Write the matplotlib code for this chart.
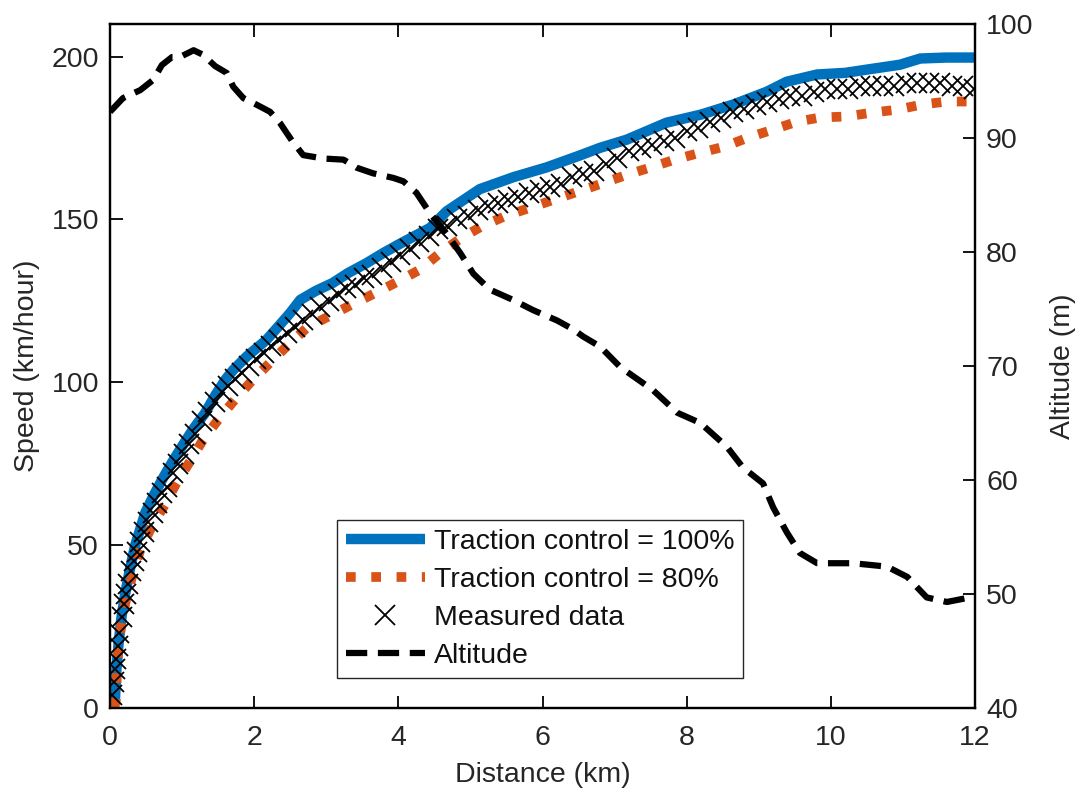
import matplotlib
matplotlib.use("Agg")
import matplotlib.pyplot as plt

plt.rcParams['font.family'] = ['Liberation Sans', 'DejaVu Sans']

# ---- data ----
blue_d = [0.05, 0.07, 0.09, 0.12, 0.16, 0.21, 0.28, 0.35, 0.42, 0.49, 0.60, 0.72, 0.85, 0.99,
          1.15, 1.32, 1.46, 1.60, 1.71, 1.90, 2.17, 2.35, 2.50, 2.64, 2.85, 3.09, 3.30, 3.56,
          3.80, 4.02, 4.44, 4.67, 5.13, 5.60, 6.06, 6.50, 6.80, 7.17, 7.72, 8.20, 8.65, 9.11,
          9.39, 9.81, 10.20, 10.50, 10.96, 11.24, 11.60, 12.00]
blue_v = [1, 3, 12, 20, 28, 35, 43, 50, 55, 60, 65, 70, 75, 80,
          85.5, 90.6, 96, 100.8, 103.8, 108, 113, 117.5, 121.3, 125.3, 128, 130.5, 133.5, 136.6,
          139.8, 142.5, 147.4, 152.5, 159.3, 163, 166, 169.5, 172, 174.5, 179.7, 182.2, 185.3, 189.2,
          192.3, 194.5, 195, 196, 197.5, 199.4, 199.7, 199.7]

orange_d = [0.06, 0.09, 0.093, 0.115, 0.16, 0.23, 0.32, 0.42, 0.58, 0.76, 0.92, 1.11, 1.29, 1.50,
            1.73, 1.97, 2.22, 2.45, 2.73, 3.03, 3.35, 3.68, 4.00, 4.30, 4.58, 4.88, 5.16, 5.48,
            5.83, 6.15, 6.50, 6.82, 7.17, 7.49, 7.84, 8.19, 8.53, 8.85, 9.20, 9.53, 9.85, 10.22,
            10.57, 10.92, 11.27, 11.61, 12.00]
orange_v = [0, 3.5, 11.7, 18.8, 26, 34.2, 41.4, 48.5, 55.7, 62.4, 69, 75.7, 82.3, 88.5,
            94.6, 100.5, 106, 111, 116.7, 120.2, 123.8, 127.4, 131, 134.6, 139.7, 144.4, 147.9, 151,
            153.6, 156, 158.6, 161, 163.7, 165.9, 168.4, 170.5, 172.4, 175.1, 177.6, 180, 181.3, 181.6,
            182.8, 183.7, 185.3, 186.2, 186.2]

meas_d = [0.03, 0.05, 0.07, 0.09, 0.11, 0.13, 0.16, 0.19, 0.22, 0.25, 0.29, 0.33, 0.37, 0.42,
          0.47, 0.53, 0.59, 0.65, 0.72, 0.79, 0.87, 0.95, 1.03, 1.10, 1.18, 1.27, 1.36, 1.45,
          1.55, 1.64, 1.73, 1.83, 1.93, 2.03, 2.13, 2.24, 2.35, 2.46, 2.57, 2.68, 2.80, 2.92,
          3.04, 3.16, 3.28, 3.40, 3.52, 3.64, 3.77, 3.90, 4.03, 4.16, 4.29, 4.42, 4.55, 4.68,
          4.82, 4.96, 5.10, 5.24, 5.38, 5.52, 5.66, 5.81, 5.96, 6.11, 6.26, 6.41, 6.56, 6.72,
          6.88, 7.04, 7.20, 7.36, 7.52, 7.68, 7.84, 8.00, 8.16, 8.32, 8.48, 8.64, 8.80, 8.96,
          9.12, 9.28, 9.44, 9.60, 9.76, 9.92, 10.08, 10.24, 10.40, 10.56, 10.72, 10.88, 11.04,
          11.20, 11.36, 11.52, 11.68, 11.84, 11.98]
meas_v = [4, 8, 12, 15, 19, 23, 28, 32, 35, 38, 42, 45, 48, 51,
          54, 57, 60, 63, 66, 68, 72, 75, 78, 81, 84, 88, 91, 94,
          97, 99, 101, 103, 105, 107, 109, 111, 113, 115, 117, 119, 121, 123,
          125, 127, 129, 130, 132, 133, 135, 137, 139, 141, 143, 145, 147, 148,
          150, 151, 153, 154, 155, 156, 157, 158, 159, 160, 161, 163, 164, 165,
          167, 169, 171, 172, 173, 174, 175, 177, 178, 180, 181, 183, 184, 185,
          186, 187, 188, 188, 189, 190, 190, 190, 191, 191, 191, 191, 192,
          192, 192, 192, 191, 191, 190]

alt_d = [0.0, 0.046, 0.18, 0.42, 0.60, 0.72, 0.86, 0.97, 1.16, 1.29, 1.46, 1.62, 1.71, 1.85,
         2.04, 2.22, 2.36, 2.52, 2.68, 2.96, 3.24, 3.42, 3.65, 3.93, 4.07, 4.25, 4.44, 4.67,
         4.86, 5.04, 5.27, 5.59, 5.87, 6.20, 6.43, 6.56, 6.80, 7.08, 7.53, 7.87, 8.19, 8.56,
         8.78, 9.06, 9.20, 9.39, 9.57, 9.81, 10.03, 10.31, 10.78, 11.06, 11.33, 11.61, 11.93, 12.0]
alt_v = [92.3, 92.6, 93.5, 94.2, 95.1, 96.4, 97.1, 97.1, 97.7, 97.3, 96.3, 95.7, 94.5, 93.5,
         92.9, 92.3, 91.3, 89.8, 88.5, 88.2, 88.1, 87.4, 86.9, 86.5, 86.2, 85.2, 83.4, 81.6,
         79.9, 78.1, 76.7, 75.8, 74.9, 74.0, 73.2, 72.6, 71.7, 69.9, 67.9, 65.9, 65.0, 62.9,
         61.1, 59.7, 57.6, 55.4, 53.6, 52.7, 52.7, 52.7, 52.4, 51.5, 49.7, 49.3, 49.7, 49.8]

labels = ['Traction control = 100%', 'Traction control = 80%', 'Measured data', 'Altitude']
c_blue = '#0072BD'
c_orange = '#D95319'

FS = 20.5

fig = plt.figure(figsize=(10.9, 7.96), dpi=100)
ax = fig.add_axes([110/1090, 1-708/796, 865/1090, 684/796])
ax2 = ax.twinx()

l1, = ax.plot(blue_d, blue_v, color=c_blue, lw=7.5, solid_capstyle='butt',
              solid_joinstyle='round', label=labels[0])
l2, = ax.plot(orange_d, orange_v, color=c_orange, lw=7, dashes=(1.0, 1.6),
              dash_capstyle='butt', label=labels[1])
l3, = ax.plot(meas_d, meas_v, ls='none', marker='x', ms=14, mew=1.3, color='black', label=labels[2])
l4, = ax2.plot(alt_d, alt_v, color='black', lw=4.5, dashes=(3.4, 1.7),
               dash_capstyle='butt', label=labels[3])

ax.set_xlim(0, 12)
ax.set_ylim(0, 210)
ax2.set_ylim(40, 100)
ax.set_xticks([0, 2, 4, 6, 8, 10, 12])
ax.set_yticks([0, 50, 100, 150, 200])
ax2.set_yticks([40, 50, 60, 70, 80, 90, 100])

for a in (ax, ax2):
    for s in a.spines.values():
        s.set_linewidth(1.6)
        s.set_color('black')
ax.tick_params(axis='both', direction='in', length=9, width=1.3, labelsize=FS,
               top=True, right=False, pad=8, colors='black', labelcolor='#262626')
ax.tick_params(axis='x', pad=12)
ax2.tick_params(axis='y', direction='in', length=9, width=1.3, labelsize=FS, pad=8,
                labelcolor='#262626')

ax.set_xlabel('Distance (km)', fontsize=FS, color='#262626', labelpad=8)
ax.set_ylabel('Speed (km/hour)', fontsize=FS, color='#262626', labelpad=8)
ax2.set_ylabel('Altitude (m)', fontsize=FS, color='#262626', labelpad=12)

leg = ax2.legend([l1, l2, l3, l4], labels, loc='lower left',
                 bbox_to_anchor=((337-110)/865, (708-678)/684), borderaxespad=0,
                 fontsize=FS, handlelength=2.8, handletextpad=0.3, borderpad=0.3,
                 labelspacing=0.43, fancybox=False, framealpha=1, edgecolor='#262626')
leg.get_frame().set_linewidth(1.0)
for t in leg.get_texts():
    t.set_color('#111111')

fig.savefig('out.png', dpi=100)
